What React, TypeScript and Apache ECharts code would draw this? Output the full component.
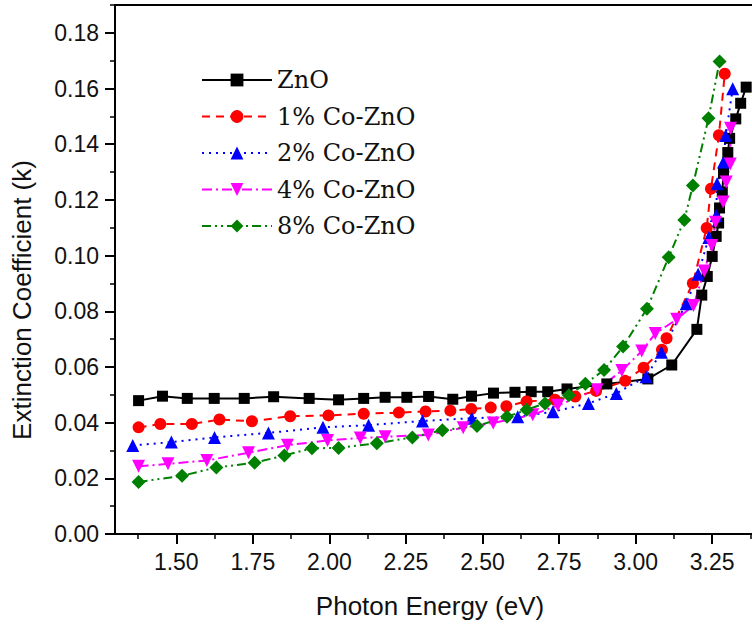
import React, { useEffect, useRef } from "react";
import * as echarts from "echarts";

const xTicks = [1.5, 1.75, 2.0, 2.25, 2.5, 2.75, 3.0, 3.25];
const xMinorTicks = [1.375, 1.625, 1.875, 2.125, 2.375, 2.625, 2.875, 3.125, 3.375];
const yTicks = [0, 0.02, 0.04, 0.06, 0.08, 0.1, 0.12, 0.14, 0.16, 0.18];
const yMinorTicks = [0.01, 0.03, 0.05, 0.07, 0.09, 0.11, 0.13, 0.15, 0.17, 0.19];

const seriesNames = ["ZnO", "1% Co-ZnO", "2% Co-ZnO", "4% Co-ZnO", "8% Co-ZnO"];

const znoE = [1.377, 1.455, 1.536, 1.624, 1.722, 1.818, 1.934, 2.03, 2.112, 2.182, 2.253, 2.324, 2.403, 2.464, 2.536, 2.606, 2.659, 2.713, 2.776, 2.906, 3.04, 3.118, 3.2, 3.216, 3.234, 3.25, 3.263, 3.271, 3.274, 3.283, 3.287, 3.301, 3.307, 3.327, 3.343, 3.361];
const znoK = [0.0479, 0.0495, 0.0487, 0.0487, 0.0487, 0.0493, 0.0487, 0.0482, 0.0487, 0.0491, 0.0491, 0.0494, 0.0484, 0.0495, 0.0506, 0.0509, 0.0511, 0.0511, 0.0521, 0.0539, 0.0557, 0.0607, 0.0735, 0.0858, 0.0925, 0.0997, 0.1069, 0.1117, 0.1171, 0.1229, 0.1296, 0.137, 0.1421, 0.1491, 0.1547, 0.1605];

const co1E = [1.377, 1.448, 1.551, 1.641, 1.747, 1.872, 1.997, 2.112, 2.227, 2.314, 2.395, 2.463, 2.527, 2.578, 2.644, 2.737, 2.803, 2.871, 2.966, 3.026, 3.086, 3.101, 3.187, 3.232, 3.246, 3.272, 3.291];
const co1K = [0.0383, 0.0395, 0.0395, 0.0411, 0.0405, 0.0423, 0.0426, 0.0432, 0.0436, 0.044, 0.0443, 0.0449, 0.0454, 0.0459, 0.0476, 0.0482, 0.0494, 0.0514, 0.055, 0.0597, 0.0662, 0.0703, 0.0901, 0.1099, 0.124, 0.1432, 0.1653];

const co2E = [1.358, 1.484, 1.625, 1.801, 1.979, 2.128, 2.304, 2.465, 2.615, 2.73, 2.846, 2.937, 3.034, 3.084, 3.165, 3.204, 3.239, 3.263, 3.266, 3.287, 3.294, 3.317];
const co2K = [0.0318, 0.033, 0.0347, 0.0363, 0.0383, 0.0391, 0.0406, 0.0416, 0.0421, 0.0439, 0.0469, 0.0505, 0.0565, 0.0653, 0.0827, 0.0933, 0.1065, 0.1144, 0.1258, 0.1336, 0.1431, 0.1599];

const co4E = [1.377, 1.473, 1.6, 1.736, 1.863, 1.994, 2.101, 2.182, 2.323, 2.437, 2.535, 2.664, 2.746, 2.874, 2.955, 3.02, 3.064, 3.134, 3.189, 3.224, 3.249, 3.261, 3.286, 3.296, 3.309, 3.31];
const co4K = [0.0243, 0.0252, 0.0264, 0.0292, 0.0319, 0.0336, 0.0345, 0.0349, 0.0356, 0.0382, 0.0399, 0.0428, 0.0462, 0.0518, 0.0587, 0.0657, 0.072, 0.0771, 0.0821, 0.0945, 0.1036, 0.112, 0.1192, 0.1264, 0.1329, 0.1457];

const co8E = [1.377, 1.519, 1.631, 1.756, 1.853, 1.943, 2.03, 2.155, 2.271, 2.369, 2.482, 2.58, 2.644, 2.704, 2.782, 2.836, 2.897, 2.959, 3.037, 3.108, 3.159, 3.187, 3.238, 3.274];
const co8K = [0.0187, 0.0209, 0.0239, 0.0256, 0.0282, 0.0308, 0.0309, 0.0326, 0.0347, 0.0373, 0.0388, 0.0421, 0.0446, 0.0469, 0.0498, 0.054, 0.0589, 0.0673, 0.0809, 0.0994, 0.1128, 0.1252, 0.1493, 0.1697];

const zip = (xs: number[], ys: number[]) => xs.map((x, i) => [x, ys[i]]);

const AXIS_FONT = "'Liberation Sans', Arial, sans-serif";
const LEGEND_FONT = "'DejaVu Serif', serif";

export default function App() {
  const ref = useRef<HTMLDivElement>(null);
  useEffect(() => {
    if (!ref.current) return;
    const chart = echarts.init(ref.current, undefined, { renderer: "svg" });
    const xMin = 1.3;
    const xMax = 3.38;
    const yMin = 0;
    const yMax = 0.19;
    const mk = (name: string, data: number[][], color: string, symbol: string, size: number, dash: any, rotate = 0) => ({
      name,
      type: "line",
      data,
      xAxisIndex: 0,
      yAxisIndex: 0,
      symbol,
      symbolSize: size,
      symbolRotate: rotate,
      itemStyle: { color },
      lineStyle: { color, width: 2, type: dash },
      z: 3,
    });
    chart.setOption({
      animation: false,
      backgroundColor: "#ffffff",
      grid: { left: 115, right: 0, top: 5, bottom: 90 },
      legend: {
        orient: "vertical",
        left: 196,
        top: 63,
        itemWidth: 70,
        itemHeight: 16,
        itemGap: 12.5,
        textStyle: { fontFamily: LEGEND_FONT, fontSize: 24, color: "#111", lineHeight: 24 },
        data: seriesNames,
      },
      xAxis: [
        {
          type: "value",
          min: xMin,
          max: xMax,
          position: "bottom",
          axisLine: { show: true, onZero: false, lineStyle: { color: "#000", width: 2 } },
          axisTick: { show: true, inside: false, length: 10, customValues: xTicks, lineStyle: { color: "#000", width: 2 } },
          axisLabel: {
            customValues: xTicks,
            margin: 16,
            fontFamily: AXIS_FONT,
            fontSize: 23,
            color: "#111",
            formatter: (v: number) => v.toFixed(2),
          },
          splitLine: { show: false },
        },
        {
          type: "value",
          min: xMin,
          max: xMax,
          position: "bottom",
          axisLine: { show: false },
          axisTick: { show: true, inside: false, length: 5, customValues: xMinorTicks, lineStyle: { color: "#000", width: 1.5 } },
          axisLabel: { show: false },
          splitLine: { show: false },
        },
        {
          type: "value",
          min: xMin,
          max: xMax,
          position: "top",
          axisLine: { show: true, onZero: false, lineStyle: { color: "#000", width: 2 } },
          axisTick: { show: false },
          axisLabel: { show: false },
          splitLine: { show: false },
        },
      ],
      yAxis: [
        {
          type: "value",
          min: yMin,
          max: yMax,
          position: "left",
          axisLine: { show: true, onZero: false, lineStyle: { color: "#000", width: 2 } },
          axisTick: { show: true, inside: false, length: 10, customValues: yTicks, lineStyle: { color: "#000", width: 2 } },
          axisLabel: {
            customValues: yTicks,
            margin: 16,
            fontFamily: AXIS_FONT,
            fontSize: 23,
            color: "#111",
            formatter: (v: number) => v.toFixed(2),
          },
          splitLine: { show: false },
        },
        {
          type: "value",
          min: yMin,
          max: yMax,
          position: "left",
          axisLine: { show: false },
          axisTick: { show: true, inside: false, length: 5, customValues: yMinorTicks, lineStyle: { color: "#000", width: 1.5 } },
          axisLabel: { show: false },
          splitLine: { show: false },
        },
      ],
      graphic: [
        {
          type: "text",
          x: 430,
          y: 606,
          style: {
            text: "Photon Energy (eV)",
            font: `26px ${AXIS_FONT}`,
            fill: "#111",
            align: "center",
            verticalAlign: "middle",
          },
        },
        {
          type: "text",
          x: 22,
          y: 300,
          rotation: Math.PI / 2,
          style: {
            text: "Extinction Coefficient (k)",
            font: `26px ${AXIS_FONT}`,
            fill: "#111",
            align: "center",
            verticalAlign: "middle",
          },
        },
      ],
      series: [
        mk(seriesNames[0], zip(znoE, znoK), "#000000", "rect", 11, "solid"),
        mk(seriesNames[1], zip(co1E, co1K), "#ff0000", "circle", 12, [8, 6]),
        mk(seriesNames[2], zip(co2E, co2K), "#0000ff", "triangle", 13, [2, 5]),
        mk(seriesNames[3], zip(co4E, co4K), "#ff00ff", "triangle", 13, [10, 4, 2, 4], 180),
        mk(seriesNames[4], zip(co8E, co8K), "#008000", "diamond", 14, [9, 4, 2, 4, 2, 4]),
      ],
    });
    return () => chart.dispose();
  }, []);
  return <div ref={ref} style={{ position: "fixed", left: 0, top: 0, width: 752, height: 624 }} />;
}
